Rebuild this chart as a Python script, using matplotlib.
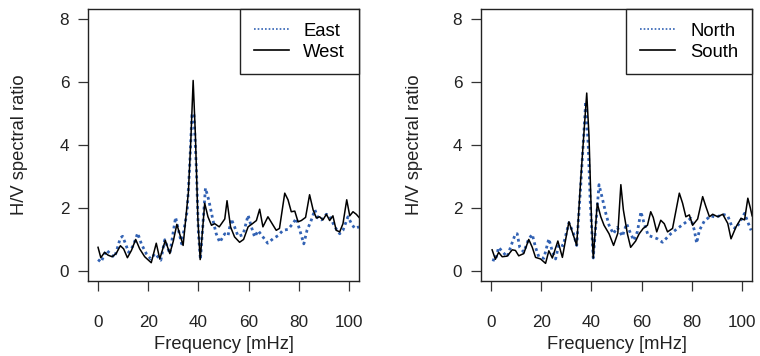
import matplotlib
matplotlib.use('Agg')
import matplotlib.pyplot as plt

plt.rcParams['font.family'] = ['Liberation Sans', 'DejaVu Sans']

# left panel: East / West
freq_west = [0, 1.1, 2.6, 4.0, 5.6, 7.2, 8.9, 10.2, 11.7, 13.3, 15.0, 16.6, 18.6, 21.2, 23.2, 24.6,
             26.8, 28.6, 30.0, 31.4, 33.9, 36.0, 37.0, 37.9, 38.8, 39.8, 40.7, 42.5, 43.8, 45.2, 46.5,
             48.3, 50.5, 51.4, 52.8, 54.4, 56.4, 58.0, 59.8, 61.5, 63.1, 64.4, 65.7, 67.7, 69.0, 71.0,
             72.3, 74.4, 75.7, 77.0, 78.4, 79.7, 81.0, 82.7, 84.3, 85.7, 87.0, 88.3, 89.6, 91.0, 92.3,
             93.6, 94.9, 96.3, 97.6, 99.1, 100.3, 101.6, 102.9, 104.0]
west = [0.75, 0.42, 0.59, 0.50, 0.45, 0.55, 0.80, 0.70, 0.42, 0.65, 1.00, 0.70, 0.45, 0.26, 0.88, 0.38,
        0.97, 0.55, 0.95, 1.48, 0.81, 2.50, 4.20, 6.05, 4.30, 1.61, 0.36, 2.15, 1.72, 1.45, 1.50,
        1.40, 1.65, 2.23, 1.40, 1.08, 0.91, 1.00, 1.40, 1.50, 1.60, 1.96, 1.40, 1.72, 1.55, 1.29,
        1.35, 2.47, 2.26, 1.88, 1.90, 1.56, 1.60, 1.70, 2.42, 1.94, 1.68, 1.72, 1.62, 1.80, 1.60,
        1.75, 1.29, 1.24, 1.50, 2.26, 1.75, 1.88, 1.80, 1.70]

freq_east = [0, 1.2, 3.3, 5.0, 6.6, 8.9, 9.8, 11.0, 12.2, 14.0, 15.8, 17.3, 19.3, 21.0, 22.7, 25.0,
             26.6, 28.6, 30.9, 33.3, 35.5, 36.5, 37.4, 38.2, 39.2, 40.0, 40.8, 42.8, 44.1, 45.8, 47.1,
             48.5, 50.5, 51.8, 53.1, 54.4, 55.8, 57.8, 59.8, 61.1, 62.4, 63.8, 65.7, 67.6, 69.7, 71.7,
             73.7, 75.7, 77.7, 79.0, 79.8, 81.0, 82.0, 83.3, 84.7, 86.4, 87.7, 89.0, 91.0, 92.3, 94.3,
             96.3, 97.6, 99.6, 101.0, 102.3, 104.0]
east = [0.36, 0.28, 0.66, 0.54, 0.43, 1.05, 1.10, 0.85, 0.59, 0.80, 1.20, 0.85, 0.54, 0.38, 0.55, 0.34,
        0.99, 0.55, 1.70, 0.86, 1.90, 3.30, 4.95, 5.00, 3.23, 1.20, 0.36, 2.63, 2.26, 1.61, 1.18,
        0.91, 1.18, 1.12, 1.65, 1.40, 1.10, 1.15, 1.77, 1.40, 1.08, 1.28, 1.08, 0.88, 1.02, 1.12,
        1.29, 1.32, 1.51, 1.67, 1.45, 1.13, 0.86, 1.30, 1.55, 1.94, 1.68, 1.62, 1.80, 1.75, 1.40,
        1.18, 1.29, 1.72, 1.50, 1.35, 1.40]

# right panel: North / South
freq_south = [0.4, 1.7, 3.0, 4.4, 6.4, 8.4, 9.7, 11.0, 13.0, 15.0, 16.4, 17.7, 19.7, 21.7, 23.0, 24.4,
              26.6, 28.4, 31.0, 32.5, 34.1, 35.7, 37.0, 38.1, 39.0, 40.0, 40.7, 42.3, 43.7, 45.0, 47.0,
              48.8, 50.5, 51.7, 52.7, 54.3, 55.6, 57.6, 59.0, 60.6, 62.3, 63.6, 64.6, 66.0, 67.6, 69.0,
              70.3, 72.3, 75.0, 76.3, 77.6, 79.0, 80.3, 82.3, 84.3, 85.6, 87.0, 88.3, 90.3, 92.3, 94.3,
              95.6, 97.6, 99.6, 101.0, 102.3, 103.3, 104.0]
south = [0.67, 0.37, 0.59, 0.45, 0.47, 0.67, 0.65, 0.48, 0.55, 1.00, 0.75, 0.43, 0.38, 0.24, 0.64, 0.41,
         0.95, 0.43, 1.56, 1.20, 0.81, 2.90, 4.40, 5.65, 4.30, 1.61, 0.41, 2.15, 1.72, 1.45, 1.18,
         0.81, 1.20, 2.74, 1.94, 1.18, 0.75, 0.95, 1.18, 1.35, 1.45, 1.88, 1.70, 1.24, 1.61, 1.50,
         1.24, 1.35, 2.47, 2.15, 1.72, 1.78, 1.45, 1.65, 2.36, 2.04, 1.72, 1.80, 1.72, 1.80, 1.51,
         1.02, 1.40, 1.67, 1.62, 2.31, 2.00, 1.75]

freq_north = [0.4, 1.7, 3.0, 4.4, 6.4, 8.4, 9.7, 10.4, 11.4, 13.0, 15.0, 16.4, 17.7, 19.0, 21.0, 23.0,
              24.4, 25.7, 27.0, 28.7, 31.0, 32.8, 34.1, 35.7, 37.7, 38.7, 39.5, 40.7, 43.0, 44.3, 45.7,
              47.0, 48.7, 50.3, 52.3, 54.0, 55.6, 56.9, 58.3, 59.7, 61.0, 62.6, 64.3, 66.3, 68.3, 70.0,
              71.6, 74.3, 77.0, 79.6, 81.0, 81.9, 83.0, 85.0, 87.6, 89.6, 92.3, 94.3, 95.9, 97.6, 99.6,
              101.0, 102.3, 103.6]
north = [0.36, 0.33, 0.75, 0.62, 0.45, 0.90, 1.18, 1.18, 0.75, 0.60, 1.02, 1.16, 0.75, 0.45, 0.40, 1.02,
         0.62, 0.38, 0.85, 0.80, 1.53, 1.20, 0.81, 2.70, 5.38, 4.00, 2.20, 0.41, 2.74, 2.31, 1.83,
         1.45, 1.18, 1.38, 1.10, 1.50, 1.18, 0.97, 1.25, 1.88, 1.50, 1.13, 1.08, 1.02, 0.91, 1.05,
         1.18, 1.35, 1.51, 1.67, 1.29, 0.88, 1.29, 1.59, 1.75, 1.70, 1.80, 1.75, 1.42, 1.34, 1.62,
         1.83, 1.55, 1.29]

x_ticks = [0, 20, 40, 60, 80, 100]
y_ticks = [0, 2, 4, 6, 8]
blue = '#3262b4'

fig = plt.figure(figsize=(7.6, 3.56), dpi=100)
ax1 = fig.add_axes([0.1158, 0.2107, 0.3566, 0.764])
ax2 = fig.add_axes([0.6330, 0.2107, 0.3566, 0.764])

panels = [
    (ax1, freq_east, east, 'East', freq_west, west, 'West', -0.251),
    (ax2, freq_north, north, 'North', freq_south, south, 'South', -0.245),
]

for ax, fb, vb, lb, fk, vk, lk, ylab_x in panels:
    ax.plot(fb, vb, color=blue, linestyle=(0, (1, 1.2)), linewidth=2.0, label=lb)
    ax.plot(fk, vk, color='black', linewidth=1.1, label=lk)
    ax.set_xlim(-4, 104)
    ax.set_ylim(-0.32, 8.32)
    ax.set_xticks(x_ticks)
    ax.set_yticks(y_ticks)
    ax.tick_params(axis='both', direction='out', length=7.5, width=0.9, labelsize=12.3,
                   color='#333333', labelcolor='#222222')
    ax.tick_params(axis='x', pad=17)
    ax.tick_params(axis='y', pad=6)
    for s in ax.spines.values():
        s.set_linewidth(1.0)
        s.set_color('#222222')
    ax.set_xlabel('Frequency [mHz]', fontsize=13.2, va='center', color='#222222')
    ax.xaxis.set_label_coords(0.5, -0.235)
    ax.set_ylabel('H/V spectral ratio', fontsize=13.2, va='center', color='#222222')
    ax.yaxis.set_label_coords(ylab_x, 0.5)
    leg = ax.legend(loc='upper right', fontsize=13.3, frameon=True, fancybox=False,
                    edgecolor='#222222', framealpha=1, borderaxespad=0, handlelength=1.9,
                    handletextpad=0.8, labelspacing=0.2, borderpad=0.75)
    leg.get_frame().set_linewidth(1.0)
    for h in leg.get_lines():
        h.set_linewidth(1.2)

fig.savefig('out.png', dpi=100)
